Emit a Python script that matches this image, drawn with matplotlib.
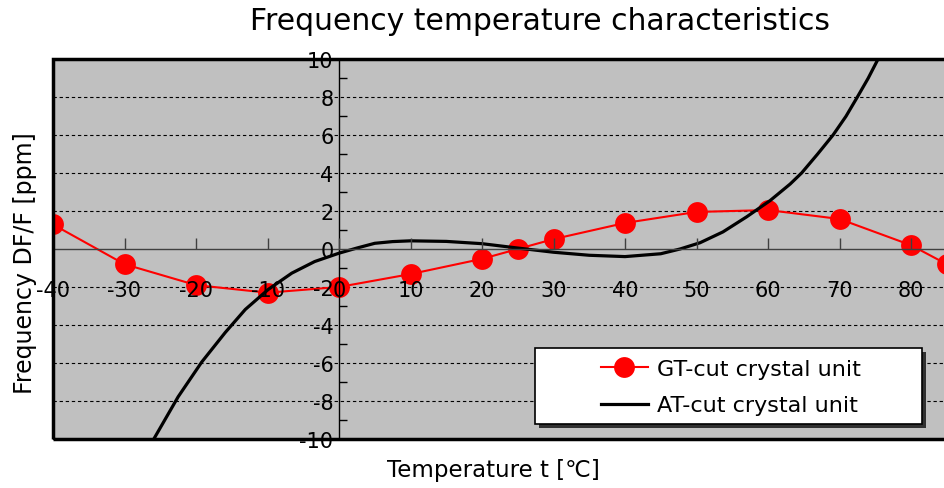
import matplotlib.pyplot as plt
from matplotlib.patches import Rectangle
from matplotlib.ticker import MultipleLocator

plt.rcParams['font.family'] = ['DejaVu Sans', 'Noto Sans CJK JP']
plt.rcParams['axes.unicode_minus'] = False

# GT-cut crystal unit (markers)
gt_temp = [-40, -30, -20, -10, 0, 10, 20, 25, 30, 40, 50, 60, 70, 80, 85]
gt_freq = [1.29, -0.8, -1.9, -2.3, -2.0, -1.32, -0.52, 0.0, 0.52, 1.37,
           1.95, 2.05, 1.58, 0.2, -0.8]

# AT-cut crystal unit
at_temp = [-25.9, -22.5, -19.2, -15.9, -13.1, -9.9, -6.6, -3.4, 0, 2.5, 5,
           7.5, 10, 15, 20, 25, 30, 35, 40, 45, 47.7, 50.5, 53.7, 57, 60.3,
           63.1, 64.7, 66.9, 69.1, 70.9, 72.5, 74.0, 75.4, 76]
at_freq = [-10, -7.78, -5.95, -4.39, -3.18, -2.13, -1.27, -0.66, -0.22, 0.05,
           0.3, 0.39, 0.43, 0.4, 0.28, 0.05, -0.17, -0.33, -0.4, -0.25, 0.0,
           0.33, 0.9, 1.69, 2.55, 3.42, 4.0, 4.98, 6.0, 6.98, 8.0, 8.98,
           10.0, 10.4]

x_ticks = list(range(-40, 81, 10))
y_ticks = list(range(-10, 11, 2))

W, H = 944, 489
fig = plt.figure(figsize=(W / 100, H / 100), dpi=100)
ax = fig.add_axes([53 / W, 49 / H, 893.75 / W, 380 / H])
ax.set_facecolor('#C0C0C0')
ax.set_axisbelow(False)  # tick labels over the markers, like the original

ax.set_xlim(-40, 85)
ax.set_ylim(-10, 10)

# dashed grid lines
for y in y_ticks:
    if y not in (-10, 0, 10):
        ax.axhline(y, color='black', lw=0.8, ls=(0, (3, 2.5)), zorder=1)

ax.plot(at_temp, at_freq, color='black', lw=2.3, zorder=2.2,
        label='AT-cut crystal unit')
ax.plot(gt_temp, gt_freq, color='red', lw=1.5, marker='o', markersize=15,
        markeredgewidth=0, zorder=2.1, label='GT-cut crystal unit')

# axes crossing at zero
ax.spines['left'].set_position(('data', 0))
ax.spines['bottom'].set_position(('data', 0))
ax.spines['left'].set_linewidth(1)
ax.spines['bottom'].set_linewidth(1)
ax.spines['bottom'].set_color('#404040')
ax.spines['top'].set_visible(False)
ax.spines['right'].set_visible(False)

ax.set_xticks(x_ticks)
ax.set_yticks(y_ticks)
ax.yaxis.set_minor_locator(MultipleLocator(1))
ax.tick_params(axis='x', direction='in', length=8, width=1, pad=22,
               labelsize=15, color='#404040')
ax.tick_params(axis='y', which='major', direction='in', length=0, pad=4,
               labelsize=15)
ax.tick_params(axis='y', which='minor', direction='in', length=6, width=1)

# outer frame
ax.add_patch(Rectangle((0, 0), 1, 1, transform=ax.transAxes, fill=False,
                       edgecolor='black', lw=2.5, zorder=5, clip_on=False))

fig.text(540 / W, 1 - 22 / H, 'Frequency temperature characteristics',
         ha='center', va='center', fontsize=21.5)
fig.text(493 / W, 1 - 471 / H, 'Temperature t [℃]', ha='center',
         va='center', fontsize=16.5)
fig.text(25 / W, 1 - 263 / H, 'Frequency DF/F [ppm]', ha='center',
         va='center', rotation=90, fontsize=17)

# legend box with shadow
bx, by, bw, bh = 535 / W, 1 - 425 / H, 387 / W, 76 / H
fig.add_artist(Rectangle((bx + 4 / W, by - 4 / H), bw, bh,
                         transform=fig.transFigure, facecolor='#303030',
                         edgecolor='none', zorder=6))
fig.add_artist(Rectangle((bx, by), bw, bh, transform=fig.transFigure,
                         facecolor='white', edgecolor='black', lw=1.2,
                         zorder=7))

handles, labels = ax.get_legend_handles_labels()
leg = ax.legend(handles[::-1], labels[::-1],
                bbox_to_anchor=(601 / W, 1 - 388 / H),
                bbox_transform=fig.transFigure, loc='center left',
                fontsize=16, frameon=False, handlelength=2.1,
                handletextpad=0.4, labelspacing=0.75, borderpad=0,
                borderaxespad=0)
leg.set_zorder(8)
leg.remove()
fig.add_artist(leg)

fig.savefig('out.png', dpi=100)
